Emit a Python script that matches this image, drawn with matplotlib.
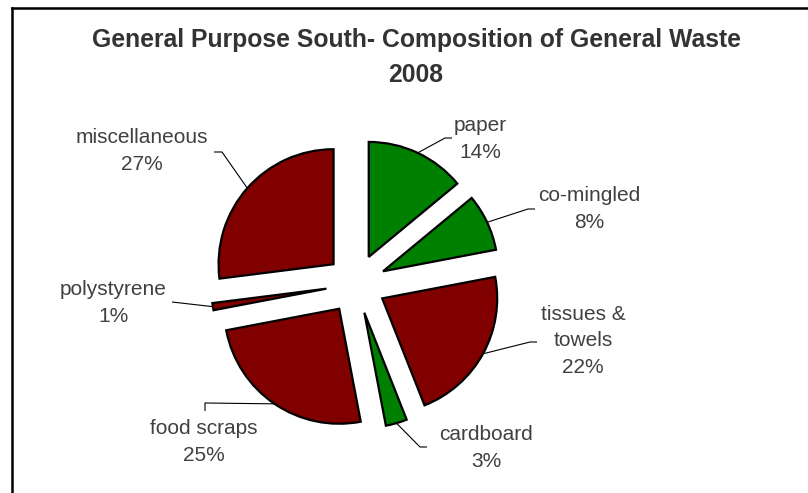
import math

import matplotlib

matplotlib.use("Agg")
import matplotlib.pyplot as plt
from matplotlib.lines import Line2D

plt.rcParams["font.family"] = ["Liberation Sans", "DejaVu Sans"]

# data
categories = ["paper", "co-mingled", "tissues &\ntowels", "cardboard",
              "food scraps", "polystyrene", "miscellaneous"]
shares = [14, 8, 22, 3, 25, 1, 27]
colors = ["#008000", "#008000", "#800000", "#008000",
          "#800000", "#800000", "#800000"]

# layout (pixels of the 808x493 picture)
W, H = 808, 493
CX, CY, R = 356, 284, 115
EXPLODE = 0.26
label_pos = [(480, 139), (589, 209), (583, 341), (486, 448),
             (204, 442), (113, 303), (142, 151)]
# leader elbows and ends after the point on the wedge
leader_pts = [
    [(445, 138), (452, 138)],
    [(528, 209), (535, 209)],
    [(530, 342), (537, 342)],
    [(420, 447), (427, 447)],
    [(205, 403), (205, 411)],
    [(172, 302)],
    [(222, 152), (214, 152)],
]
TEXT = "#404040"


def px(x, y):
    return (x - CX) / R, (CY - y) / R


fig = plt.figure(figsize=(W / 100, H / 100), dpi=100)
ax = fig.add_axes([0, 0, 1, 1])
wedges, _ = ax.pie(
    shares,
    colors=colors,
    startangle=90,
    counterclock=False,
    explode=[EXPLODE] * len(shares),
    radius=1,
    wedgeprops=dict(edgecolor="black", linewidth=1.6),
)
ax.set_xlim(-CX / R, (W - CX) / R)
ax.set_ylim(-(H - CY) / R, CY / R)
ax.set_aspect("equal")
ax.axis("off")

for w, name, v, pos, pts in zip(wedges, categories, shares, label_pos, leader_pts):
    mid = math.radians((w.theta1 + w.theta2) / 2)
    x0 = w.center[0] + w.r * math.cos(mid)
    y0 = w.center[1] + w.r * math.sin(mid)
    xs = [x0] + [px(*p)[0] for p in pts]
    ys = [y0] + [px(*p)[1] for p in pts]
    ax.plot(xs, ys, color="black", linewidth=0.8, solid_capstyle="butt")
    tx, ty = px(*pos)
    ax.text(tx, ty, f"{name}\n{v:.0f}%", ha="center", va="center",
            multialignment="center", fontsize=15, color=TEXT, linespacing=1.5)

fig.text(416 / W, 1 - 40 / H, "General Purpose South- Composition of General Waste",
         ha="center", va="center", fontsize=17.8, fontweight="bold", color="#333333")
fig.text(416 / W, 1 - 75 / H, "2008", ha="center", va="center",
         fontsize=17.8, fontweight="bold", color="#333333")

# chart frame (only top and left edges are inside the picture)
fig.add_artist(Line2D([11.5 / W, 1], [1 - 7.5 / H, 1 - 7.5 / H],
                      transform=fig.transFigure, color="black", linewidth=1.8))
fig.add_artist(Line2D([11.5 / W, 11.5 / W], [0, 1 - 7.5 / H],
                      transform=fig.transFigure, color="black", linewidth=1.8))

fig.savefig("out.png", dpi=100, facecolor="white")
